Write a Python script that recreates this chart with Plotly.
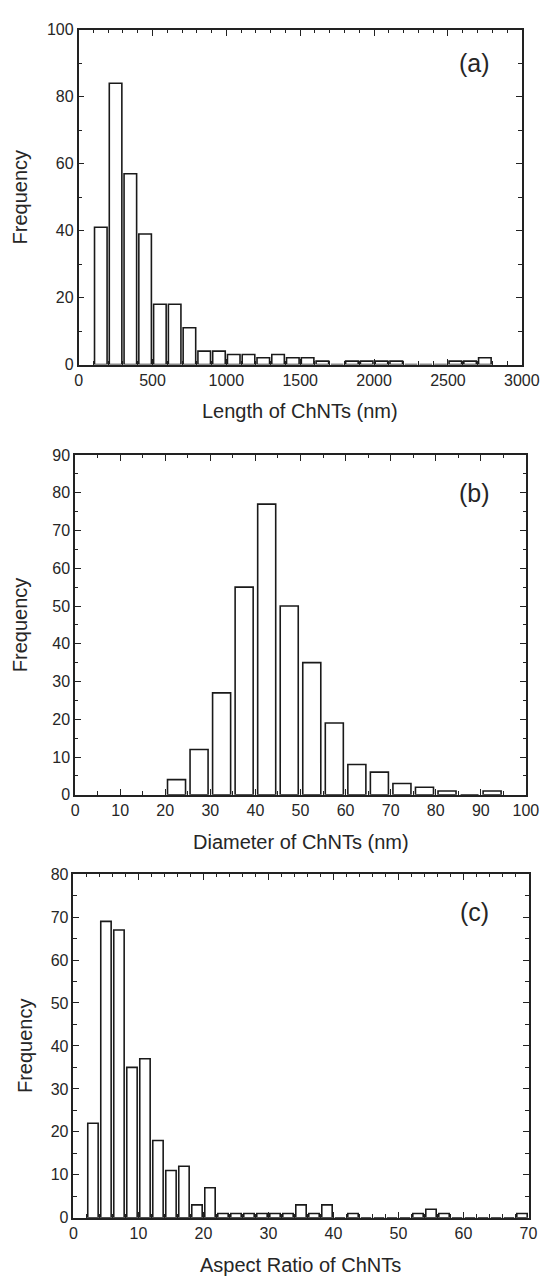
import plotly.graph_objects as go

W, H = 559, 1285

# ---------------- data ----------------
length_bin_start = [100, 200, 300, 400, 500, 600, 700, 800, 900, 1000, 1100, 1200, 1300, 1400,
                    1500, 1600, 1700, 1800, 1900, 2000, 2100, 2200, 2300, 2400, 2500, 2600, 2700]
length_counts = [41, 84, 57, 39, 18, 18, 11, 4, 4, 3, 3, 2, 3, 2,
                 2, 1, 0, 1, 1, 1, 1, 0, 0, 0, 1, 1, 2]
length_bin_width = 100

diam_bin_start = [20, 25, 30, 35, 40, 45, 50, 55, 60, 65, 70, 75, 80, 85, 90]
diam_counts = [4, 12, 27, 55, 77, 50, 35, 19, 8, 6, 3, 2, 1, 0, 1]
diam_bin_width = 5

ar_bin_start = [2, 4, 6, 8, 10, 12, 14, 16, 18, 20, 22, 24, 26, 28, 30, 32, 34, 36, 38, 40, 42,
                44, 46, 48, 50, 52, 54, 56, 58, 60, 62, 64, 66, 68]
ar_counts = [22, 69, 67, 35, 37, 18, 11, 12, 3, 7, 1, 1, 1, 1, 1, 1, 3, 1, 3, 0, 1,
             0, 0, 0, 0, 1, 2, 1, 0, 0, 0, 0, 0, 1]
ar_bin_width = 2

x_titles = ["Length of ChNTs (nm)", "Diameter of ChNTs (nm)", "Aspect Ratio of ChNTs"]
panel_tags = ["(a)", "(b)", "(c)"]

# ---------------- layout geometry (pixels) ----------------
panels = [
    dict(bins=length_bin_start, counts=length_counts, bw=length_bin_width, frac=0.85,
         px=(77.7, 539.0), py=(22.0, 361.3), xr=[0, 3000], xd=500, xm=100, yr=[0, 100], yd=20, ym=10),
    dict(bins=diam_bin_start, counts=diam_counts, bw=diam_bin_width, frac=0.80,
         px=(74.0, 543.3), py=(453.0, 797.3), xr=[0, 100], xd=10, xm=5, yr=[0, 90], yd=10, ym=5),
    dict(bins=ar_bin_start, counts=ar_counts, bw=ar_bin_width, frac=0.80,
         px=(72.3, 546.0), py=(877.7, 1226.0), xr=[0, 70], xd=10, xm=2, yr=[0, 80], yd=10, ym=5),
]

FONT = "Liberation Sans, Arial, sans-serif"
TXT = "#262626"
LINE = "#222222"

fig = go.Figure()
layout = dict(width=W, height=H, margin=dict(l=0, r=0, t=0, b=0),
              paper_bgcolor="white", plot_bgcolor="white", showlegend=False,
              font=dict(family=FONT, color=TXT, size=16))
annotations = []

for i, p in enumerate(panels):
    n = "" if i == 0 else str(i + 1)
    centers = [b + p["bw"] / 2 for b in p["bins"]]
    fig.add_trace(go.Bar(
        x=centers, y=p["counts"], width=[p["bw"] * p["frac"]] * len(centers),
        marker=dict(color="white", line=dict(color="#1a1a1a", width=1.6)),
        xaxis="x" + n, yaxis="y" + n, hoverinfo="x+y"))
    x0, x1 = p["px"]
    y0, y1 = p["py"]
    xdom = [x0 / W, x1 / W]
    ydom = [1 - y1 / H, 1 - y0 / H]
    common = dict(showline=True, linecolor=LINE, linewidth=1.6, mirror="allticks",
                  ticks="inside", ticklen=6, tickwidth=1.3, tickcolor=LINE,
                  showgrid=False, zeroline=False, tickfont=dict(size=16, color=TXT, family=FONT))
    layout["xaxis" + n] = dict(domain=xdom, range=p["xr"], dtick=p["xd"], tick0=0,
                               anchor="y" + n,
                               minor=dict(dtick=p["xm"], ticks="inside", ticklen=3.5,
                                          tickcolor=LINE, tickwidth=1.3, showgrid=False),
                               **common)
    layout["yaxis" + n] = dict(domain=ydom, range=p["yr"], dtick=p["yd"], tick0=0,
                               anchor="x" + n,
                               minor=dict(dtick=p["ym"], ticks="inside", ticklen=3.5,
                                          tickcolor=LINE, tickwidth=1.3, showgrid=False),
                               **common)
    # x-axis title
    annotations.append(dict(text=x_titles[i], xref="paper", yref="paper",
                            x=(x0 + x1) / 2 / W, y=1 - (y1 + 47.5) / H,
                            showarrow=False, xanchor="center", yanchor="middle",
                            font=dict(size=20, color=TXT, family=FONT)))
    # y-axis title
    annotations.append(dict(text="Frequency", xref="paper", yref="paper",
                            x=(17 if i < 2 else 22) / W, y=1 - (y0 + y1) / 2 / H,
                            showarrow=False, textangle=-90, xanchor="center", yanchor="middle",
                            font=dict(size=20, color=TXT, family=FONT)))
    # panel tag
    tag_y = [55.7, 492.0, 916.0][i]
    annotations.append(dict(text=panel_tags[i], xref="paper", yref="paper",
                            x=490 / W, y=1 - tag_y / H, showarrow=False,
                            xanchor="center", yanchor="middle",
                            font=dict(size=25, color=TXT, family=FONT)))

layout["annotations"] = annotations
fig.update_layout(**layout)
fig.write_html("out.html")
